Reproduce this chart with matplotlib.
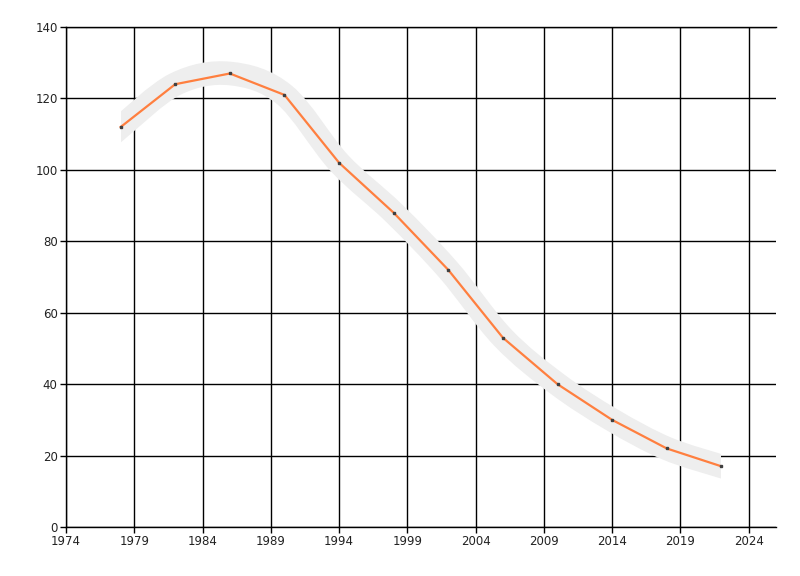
import matplotlib
matplotlib.use("Agg")
import matplotlib.pyplot as plt
from matplotlib.path import Path
from matplotlib.patches import PathPatch, Rectangle

years = [1978, 1982, 1986, 1990, 1994, 1998, 2002, 2006, 2010, 2014, 2018, 2022]
values = [112, 124, 127, 121, 102, 88, 72, 53, 40, 30, 22, 17]
x_ticks = list(range(1974, 2025, 5))
y_ticks = list(range(0, 141, 20))


def smooth_path(xs, ys):
    # catmull-rom through the points, as cubic bezier segments
    verts = [(xs[0], ys[0])]
    codes = [Path.MOVETO]
    n = len(xs)
    for i in range(n - 1):
        x0, y0 = (xs[i - 1], ys[i - 1]) if i > 0 else (xs[i], ys[i])
        x1, y1 = xs[i], ys[i]
        x2, y2 = xs[i + 1], ys[i + 1]
        x3, y3 = (xs[i + 2], ys[i + 2]) if i + 2 < n else (x2, y2)
        c1 = (x1 + (x2 - x0) / 6, y1 + (y2 - y0) / 6)
        c2 = (x2 - (x3 - x1) / 6, y2 - (y3 - y1) / 6)
        verts += [c1, c2, (x2, y2)]
        codes += [Path.CURVE4] * 3
    return Path(verts, codes)


fig = plt.figure(figsize=(8, 5.76), dpi=100)
ax = fig.add_axes([0.0825, 0.085, 0.8875, 0.868])

# smoothed band
band = PathPatch(smooth_path(years, values), facecolor="none", edgecolor="#eeeeee",
                 lw=17, capstyle="projecting", joinstyle="round", zorder=2)
ax.add_patch(band)
clip = Rectangle((years[0], -50), years[-1] - years[0], 300, transform=ax.transData)
band.set_clip_path(clip)

ax.plot(years, values, color="#ff7f3f", lw=1.6, zorder=3)
ax.plot(years, values, ls="none", marker="s", ms=1.8, color="#404040", zorder=4)

ax.set_xlim(1974, 2026)
ax.set_ylim(0, 140)
ax.set_xticks(x_ticks)
ax.set_yticks(y_ticks)
ax.grid(True, color="black", lw=1, zorder=1)
ax.set_axisbelow(True)

for s in ["left", "bottom", "top"]:
    ax.spines[s].set_color("black")
    ax.spines[s].set_linewidth(1)
ax.spines["right"].set_visible(False)

ax.tick_params(axis="both", labelsize=8.5, length=4, width=1, color="black",
               labelcolor="#222222", pad=2)

fig.savefig("out.png", dpi=100)
